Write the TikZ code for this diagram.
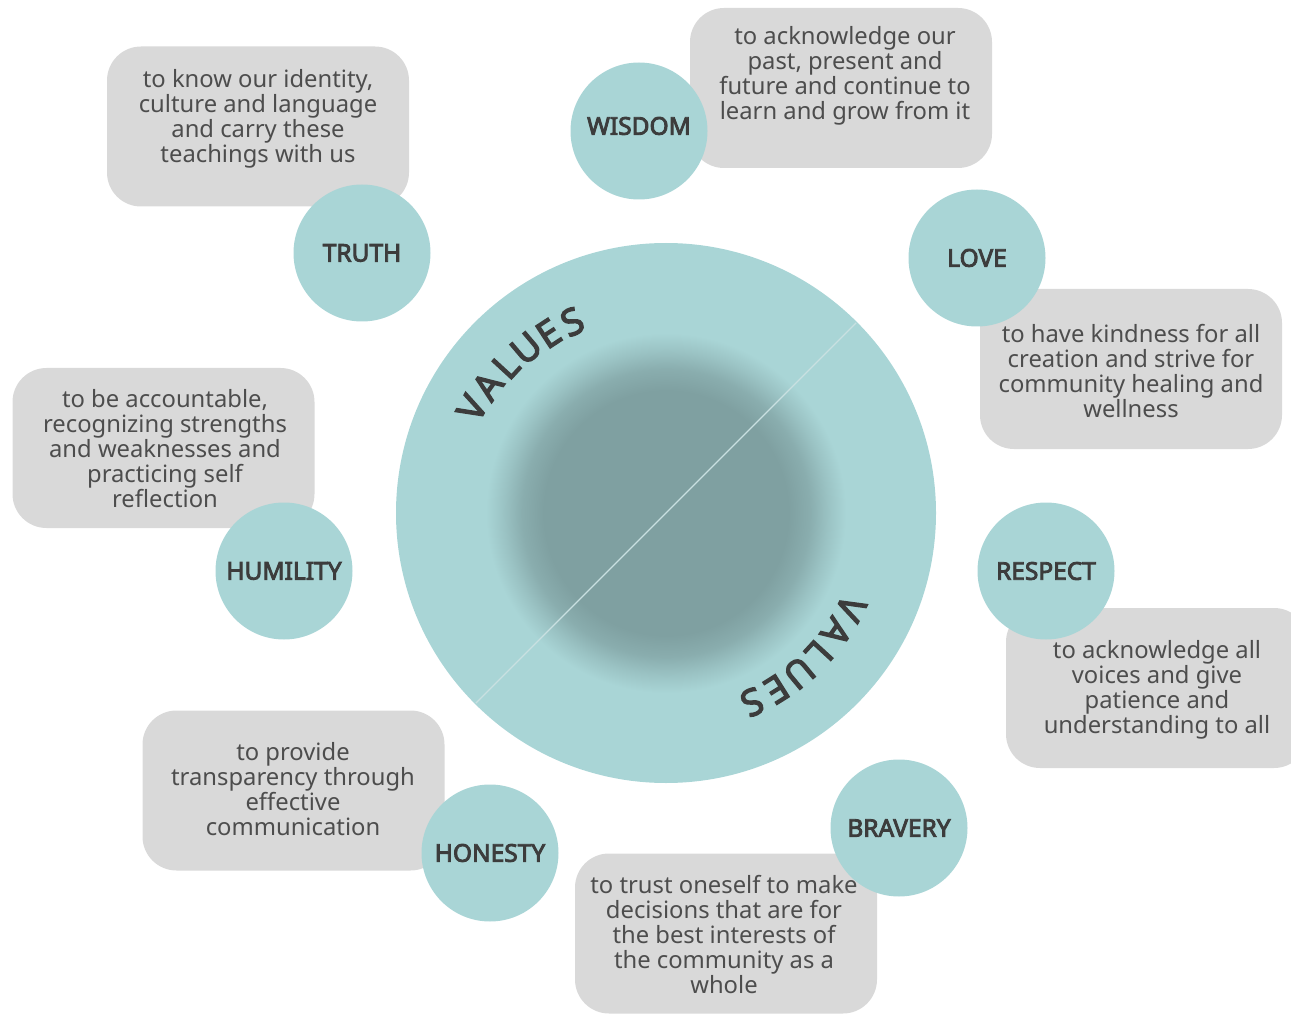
\documentclass[tikz,border=0pt]{standalone}
\usepackage{fontspec}
\setmainfont{Noto Sans}
\newfontfamily\labelfont{Noto Sans}[FakeBold=3.5]
\usetikzlibrary{calc}
\definecolor{teal}{HTML}{A9D5D6}
\definecolor{tealdark}{HTML}{7FA0A1}
\definecolor{boxgray}{HTML}{D9D9D9}
\definecolor{bodytext}{HTML}{4D4D4D}
\definecolor{labeltext}{HTML}{3C3C3C}
\definecolor{divider}{HTML}{C9E0E1}
\pgfdeclareradialshading{coreglow}{\pgfpoint{0bp}{0bp}}{%
  color(0bp)=(tealdark); color(17bp)=(tealdark); color(20bp)=(tealdark!75!teal);
  color(22.5bp)=(tealdark!35!teal); color(25bp)=(teal); color(50bp)=(teal)}
\begin{document}
\begin{tikzpicture}[x=1pt,y=-1pt,
  card/.style={fill=boxgray, rounded corners=34pt, minimum width=302pt, minimum height=160pt, inner sep=0pt},
  cardtext/.style={align=center, inner sep=0pt, text=bodytext, font=\fontsize{23.8}{25}\selectfont},
  badge/.style={circle, fill=teal, minimum size=137pt, inner sep=0pt, text=labeltext, font=\labelfont\fontsize{24.5}{26}\selectfont},
  arcletter/.style={inner sep=0pt, text=labeltext, font=\labelfont\fontsize{37}{40}\selectfont}]
\useasboundingbox (0,0) rectangle (1291,1016);

% central disc with its soft dark core and the dividing diameter
\coordinate (c) at (666,513);
\node[circle, fill=teal, minimum size=540pt, inner sep=0pt] (hub) at (c) {};
\shade[shading=coreglow] (c) circle[radius=180pt];
\coordinate (dA) at ($(c)+(45:269pt)$);
\coordinate (dB) at ($(c)+(225:269pt)$);
\draw[divider, line width=1.2pt] (dA) -- (dB);

% VALUES, set along the rim, clockwise
\foreach \ch [count=\i from 0] in {V,A,L,U,E,S}{
  \pgfmathsetmacro\ang{151.6-7.1*\i}
  \pgfmathsetmacro\rad{220.6-1.5*\i}
  \node[arcletter, rotate=\ang-90] (vt\i) at ($(c)+(\ang:\rad pt)$) {\ch};
}
\foreach \ch [count=\i from 0] in {V,A,L,U,E,S}{
  \pgfmathsetmacro\ang{-27.3-7.64*\i}
  \node[arcletter, rotate=\ang-90] (vb\i) at ($(c)+(\ang:208pt)$) {\ch};
}

% description cards
\node[card] (cTruth)    at (258,126.5) {};
\node[card] (cWisdom)   at (841,88) {};
\node[card] (cLove)     at (1131,369) {};
\node[card] (cHumility) at (163.5,448) {};
\node[card] (cRespect)  at (1157,688) {};
\node[card] (cHonesty)  at (293.5,790.5) {};
\node[card] (cBravery)  at (726,933.5) {};

% value badges
\node[badge] (bWisdom)   at (639,131) {};
\node[badge] (bTruth)    at (362,253) {TRUTH};
\node[badge] (bLove)     at (977,258) {LOVE};
\node[badge] (bHumility) at (284,571) {HUMILITY};
\node[badge] (bRespect)  at (1046,571) {RESPECT};
\node[badge] (bHonesty)  at (490,853) {HONESTY};
\node[badge] (bBravery)  at (899,828) {BRAVERY};
\node[inner sep=0pt, text=labeltext, font=\labelfont\fontsize{24.5}{26}\selectfont] (lWisdom) at (639,126) {WISDOM};

% card texts
\node[cardtext] (tTruth) at (258,118.5) {to know our identity,\\culture and language\\and carry these\\teachings with us};
\node[cardtext] (tWisdom) at (845,75.5) {to acknowledge our\\past, present and\\future and continue to\\learn and grow from it};
\node[cardtext] (tLove) at (1131,371.5) {to have kindness for all\\creation and strive for\\community healing and\\wellness};
\node[cardtext] (tHumility) at (165,448.5) {to be accountable,\\recognizing strengths\\and weaknesses and\\practicing self\\reflection};
\node[cardtext] (tRespect) at (1157,690) {to acknowledge all\\voices and give\\patience and\\understanding to all};
\node[cardtext] (tHonesty) at (293,789.5) {to provide\\transparency through\\effective\\communication};
\node[cardtext] (tBravery) at (724,935) {to trust oneself to make\\decisions that are for\\the best interests of\\the community as a\\whole};
\end{tikzpicture}
\end{document}
